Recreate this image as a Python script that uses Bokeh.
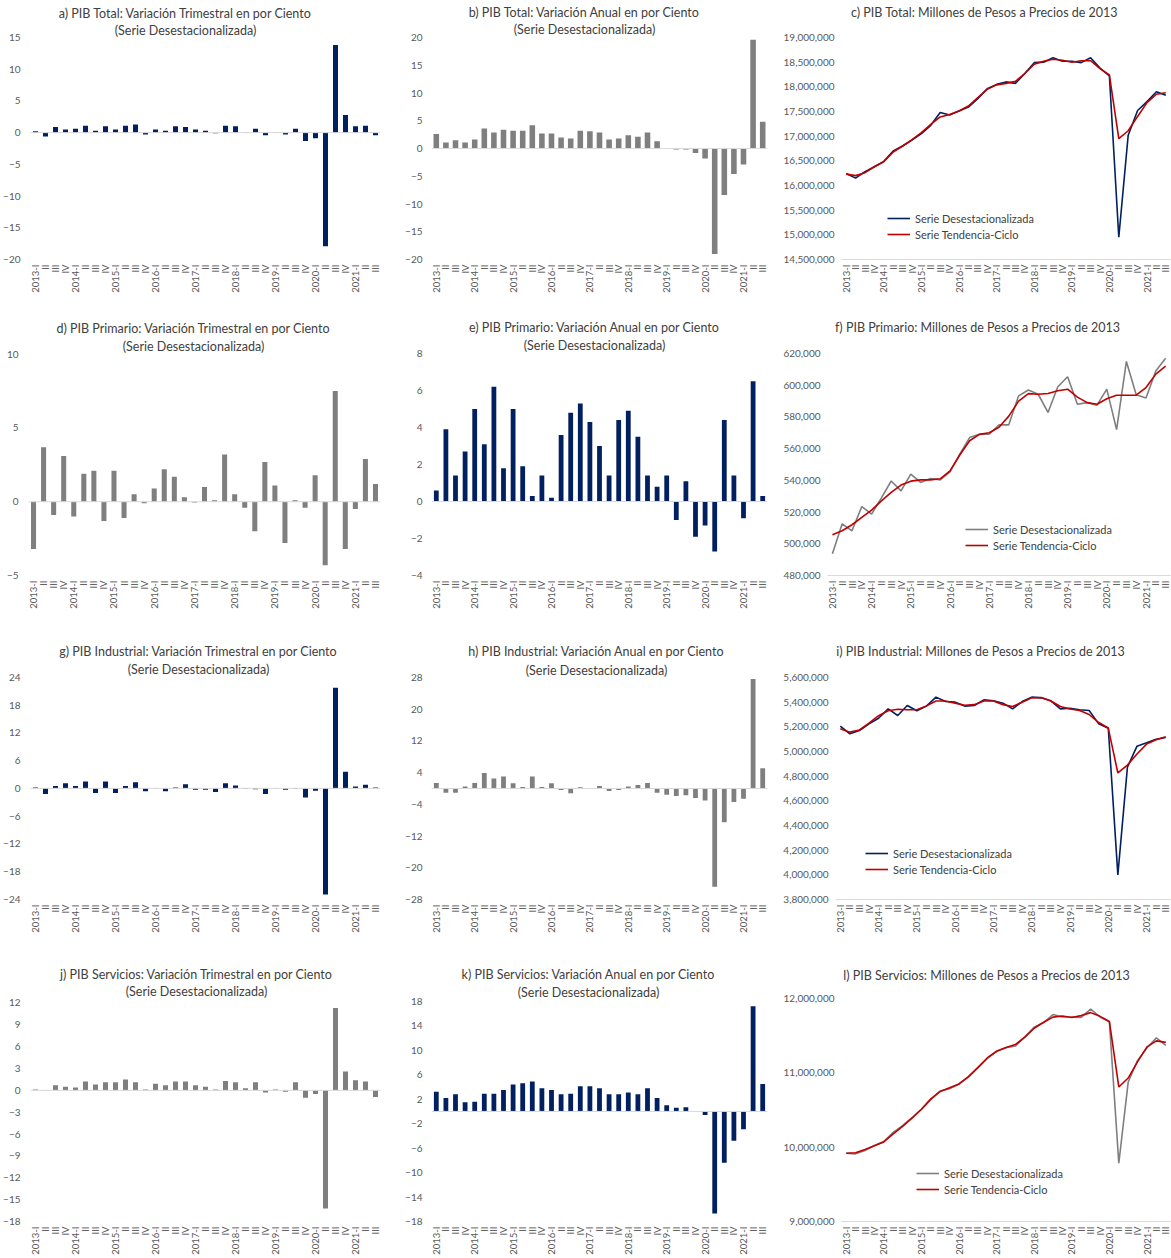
import math
from bokeh.plotting import figure
from bokeh.models import (Range1d, FixedTicker, NumeralTickFormatter, Span, Label,
                          Legend, LegendItem, ColumnDataSource)
from bokeh.layouts import row, column
from bokeh.embed import file_html
from bokeh.resources import INLINE

# ---------------- data ----------------
QUARTERS = ["2013-I", "II", "III", "IV", "2014-I", "II", "III", "IV",
            "2015-I", "II", "III", "IV", "2016-I", "II", "III", "IV",
            "2017-I", "II", "III", "IV", "2018-I", "II", "III", "IV",
            "2019-I", "II", "III", "IV", "2020-I", "II", "III", "IV",
            "2021-I", "II", "III"]

total_qoq = [0.2, -0.6, 0.9, 0.5, 0.6, 1.1, 0.3, 1.0, 0.5, 1.1, 1.3, -0.3, 0.5, 0.3, 1.0, 0.9,
             0.5, 0.3, -0.1, 1.1, 1.0, -0.05, 0.6, -0.4, -0.05, -0.3, 0.6, -1.3, -0.9, -17.9,
             13.8, 2.8, 1.0, 1.1, -0.4]
total_yoy = [2.6, 1.1, 1.5, 1.1, 1.6, 3.6, 2.9, 3.4, 3.2, 3.2, 4.2, 2.7, 2.7, 2.0, 1.8, 3.2,
             3.1, 2.9, 1.6, 1.8, 2.4, 2.1, 2.9, 1.3, 0.1, -0.2, -0.2, -0.8, -1.8, -19.0,
             -8.4, -4.6, -2.9, 19.6, 4.8]
total_sa = [16243000, 16150000, 16280000, 16380000, 16490000, 16700000, 16800000, 16920000,
            17050000, 17220000, 17480000, 17430000, 17510000, 17590000, 17760000, 17960000,
            18050000, 18100000, 18070000, 18270000, 18490000, 18500000, 18590000, 18520000,
            18520000, 18490000, 18590000, 18380000, 18220000, 14950000, 17020000, 17520000,
            17700000, 17900000, 17830000]
total_tc = [16230000, 16200000, 16260000, 16380000, 16480000, 16680000, 16800000, 16930000,
            17070000, 17240000, 17390000, 17440000, 17510000, 17610000, 17780000, 17950000,
            18040000, 18070000, 18110000, 18270000, 18460000, 18520000, 18560000, 18540000,
            18500000, 18530000, 18530000, 18370000, 18240000, 16950000, 17110000, 17400000,
            17680000, 17850000, 17880000]

prim_qoq = [-3.2, 3.7, -0.9, 3.1, -1.0, 1.9, 2.1, -1.3, 2.1, -1.1, 0.5, -0.1, 0.9, 2.2, 1.7, 0.3,
            -0.05, 1.0, 0.1, 3.2, 0.5, -0.4, -2.0, 2.7, 1.1, -2.8, 0.1, -0.4, 1.8, -4.3,
            7.5, -3.2, -0.5, 2.9, 1.2]
prim_yoy = [0.6, 3.9, 1.4, 2.7, 5.0, 3.1, 6.2, 1.8, 5.0, 1.9, 0.3, 1.4, 0.2, 3.6, 4.8, 5.3,
            4.3, 3.0, 1.4, 4.4, 4.9, 3.5, 1.4, 0.8, 1.4, -1.0, 1.1, -1.9, -1.3, -2.7,
            4.4, 1.4, -0.9, 6.5, 0.3]
prim_sa = [493700, 512600, 508200, 523500, 518700, 529000, 539600, 533400, 543900, 538700,
           541200, 540300, 545400, 556500, 567000, 569100, 569100, 575000, 575000, 593300,
           597000, 594300, 582800, 599000, 605300, 588000, 589000, 587400, 597500, 572000,
           615000, 594000, 592000, 609000, 617000]
prim_tc = [505700, 508200, 512000, 516600, 521200, 527100, 532400, 537000, 539500, 540300,
           540300, 541000, 546000, 556000, 565000, 569000, 570000, 573500, 580500, 590000,
           594700, 594300, 594800, 596500, 597500, 592500, 589000, 588000, 591500, 593700,
           593700, 593700, 598500, 607000, 612000]

ind_qoq = [0.2, -1.2, 0.5, 1.1, 0.5, 1.5, -1.0, 1.5, -1.0, 0.5, 1.3, -0.6, 0.1, -0.6, 0.2, 0.9,
           -0.3, -0.3, -0.8, 1.1, 0.6, -0.1, -0.2, -1.2, 0.1, -0.3, -0.1, -2.0, -0.5, -22.9,
           21.7, 3.6, 0.4, 0.8, 0.2]
ind_yoy = [1.4, -1.1, -1.1, 0.5, 1.4, 3.9, 2.5, 3.0, 1.3, 0.4, 3.0, 0.4, 1.3, -0.4, -1.2, 0.3,
           0.05, 0.6, -0.6, -0.4, 0.5, 0.9, 1.4, -1.1, -1.6, -1.9, -1.7, -2.4, -3.0, -24.8,
           -8.5, -3.4, -2.6, 27.6, 5.1]
ind_sa = [5205000, 5143000, 5170000, 5224000, 5270000, 5346000, 5292000, 5373000, 5330000,
          5368000, 5441000, 5405000, 5400000, 5368000, 5373000, 5419000, 5411000, 5392000,
          5346000, 5405000, 5441000, 5435000, 5411000, 5346000, 5351000, 5338000, 5332000,
          5224000, 5189000, 4000000, 4873000, 5043000, 5070000, 5100000, 5113000]
ind_tc = [5185000, 5157000, 5175000, 5230000, 5290000, 5330000, 5343000, 5338000, 5338000,
          5370000, 5410000, 5410000, 5392000, 5375000, 5380000, 5410000, 5410000, 5380000,
          5365000, 5400000, 5435000, 5438000, 5410000, 5365000, 5345000, 5332000, 5300000,
          5235000, 5190000, 4826000, 4890000, 4980000, 5060000, 5095000, 5120000]

serv_qoq = [0.1, 0.05, 0.7, 0.5, 0.4, 1.2, 0.8, 1.1, 1.1, 1.5, 1.1, 0.1, 0.9, 0.7, 1.2, 1.2,
            0.7, 0.5, 0.1, 1.3, 1.1, 0.3, 1.1, -0.3, 0.1, -0.2, 1.1, -1.0, -0.5, -16.2,
            11.3, 2.6, 1.4, 1.2, -0.9]
serv_yoy = [3.2, 2.2, 2.8, 1.5, 1.6, 2.9, 2.9, 3.5, 4.4, 4.6, 4.9, 3.8, 3.5, 2.8, 2.9, 4.1,
            4.1, 3.8, 2.8, 2.8, 3.1, 2.8, 3.8, 2.2, 1.0, 0.6, 0.7, 0.0, -0.6, -16.7,
            -8.4, -4.8, -2.9, 17.2, 4.5]
serv_sa = [9919000, 9910000, 9955000, 10022000, 10076000, 10200000, 10290000, 10396000,
           10508000, 10638000, 10755000, 10786000, 10850000, 10942000, 11067000, 11190000,
           11290000, 11337000, 11360000, 11480000, 11615000, 11676000, 11784000, 11752000,
           11752000, 11745000, 11856000, 11752000, 11685000, 9784000, 10876000, 11167000,
           11338000, 11470000, 11368000]
serv_tc = [9918000, 9924000, 9970000, 10020000, 10070000, 10180000, 10280000, 10390000,
           10510000, 10650000, 10750000, 10800000, 10850000, 10950000, 11070000, 11200000,
           11290000, 11340000, 11380000, 11480000, 11600000, 11680000, 11750000, 11765000,
           11745000, 11770000, 11810000, 11760000, 11690000, 10810000, 10930000, 11150000,
           11350000, 11430000, 11410000]

# tick values
ticks_a = [-20, -15, -10, -5, 0, 5, 10, 15]
ticks_b = [-20, -15, -10, -5, 0, 5, 10, 15, 20]
ticks_c = [14500000, 15000000, 15500000, 16000000, 16500000, 17000000, 17500000, 18000000,
           18500000, 19000000]
ticks_d = [-5, 0, 5, 10]
ticks_e = [-4, -2, 0, 2, 4, 6, 8]
ticks_f = [480000, 500000, 520000, 540000, 560000, 580000, 600000, 620000]
ticks_g = [-24, -18, -12, -6, 0, 6, 12, 18, 24]
ticks_h = [-28, -20, -12, -4, 4, 12, 20, 28]
ticks_i = [3800000, 4000000, 4200000, 4400000, 4600000, 4800000, 5000000, 5200000, 5400000,
           5600000]
ticks_j = [-18, -15, -12, -9, -6, -3, 0, 3, 6, 9, 12]
ticks_k = [-18, -14, -10, -6, -2, 2, 6, 10, 14, 18]
ticks_l = [9000000, 10000000, 11000000, 12000000]

LEG_SA = "Serie Desestacionalizada"
LEG_TC = "Serie Tendencia-Ciclo"
T2 = "(Serie Desestacionalizada)"

# ---------------- style ----------------
FONT = "Lato"
NAVY = "#002060"
GRAY = "#7F7F7F"
RED = "#C00000"
TITLE_C = "#404040"
TICK_C = "#595959"
AXIS_C = "#D9D9D9"
IDX = list(range(len(QUARTERS)))


def base_fig(fx, fy, W, H, frame, yr, yticks, comma, standoff, titles, tcx, tys):
    # frame = (left, right, top, bottom) of the plotting area, page pixels.
    # The frame is extended up to the top of the figure so that the titles
    # (drawn as labels) sit inside it; the y range is extended accordingly.
    L, R, T, B = frame
    y0, y1 = yr
    y1_ext = y1 + (T - fy) * (y1 - y0) / (B - T)
    p = figure(width=W, height=H, output_backend="svg", toolbar_location=None,
               x_range=Range1d(-0.5, len(QUARTERS) - 0.5), y_range=Range1d(y0, y1_ext),
               min_border_left=L - fx, min_border_right=fx + W - R,
               min_border_top=0, min_border_bottom=fy + H - B)
    p.outline_line_color = None
    p.xgrid.visible = False
    p.ygrid.visible = False
    p.background_fill_color = "white"
    p.border_fill_color = "white"

    ya = p.yaxis[0]
    ya.ticker = FixedTicker(ticks=yticks)
    if comma:
        ya.formatter = NumeralTickFormatter(format="0,0")
    ya.axis_line_color = None
    ya.major_tick_line_color = None
    ya.minor_tick_line_color = None
    ya.major_tick_out = 0
    ya.major_tick_in = 0
    ya.minor_tick_out = 0
    ya.minor_tick_in = 0
    ya.axis_label_standoff = 0
    ya.major_label_text_font = FONT
    ya.major_label_text_font_size = "10px"
    ya.major_label_text_color = TICK_C
    ya.major_label_standoff = standoff

    xa = p.xaxis[0]
    xa.ticker = FixedTicker(ticks=IDX)
    xa.major_label_overrides = {i: q for i, q in zip(IDX, QUARTERS)}
    xa.major_label_orientation = math.pi / 2
    xa.major_tick_line_color = None
    xa.minor_tick_line_color = None
    xa.major_tick_out = 0
    xa.major_tick_in = 0
    xa.minor_tick_out = 0
    xa.minor_tick_in = 0
    xa.axis_label_standoff = 0
    xa.major_label_text_font = FONT
    xa.major_label_text_font_size = "9.5px"
    xa.major_label_text_color = TICK_C
    xa.major_label_standoff = 5
    xa.axis_line_color = AXIS_C

    for txt, yc in zip(titles, tys):
        p.add_layout(Label(x=tcx - L, y=B - yc, x_units="screen", y_units="screen",
                           text=txt, text_align="center", text_baseline="middle",
                           text_font=FONT, text_font_size="12.5px", text_color=TITLE_C))
    return p


def bar_fig(vals, color, width, **kw):
    p = base_fig(**kw)
    p.xaxis[0].axis_line_color = None
    src = ColumnDataSource(dict(x=IDX, top=vals))
    p.vbar(x="x", top="top", bottom=0, width=width, source=src,
           fill_color=color, line_color=None)
    p.add_layout(Span(location=0, dimension="width", line_color=AXIS_C, line_width=1))
    return p


def line_fig(sa, tc, sa_color, leg_xy, **kw):
    p = base_fig(**kw)
    src = ColumnDataSource(dict(x=IDX, sa=sa, tc=tc))
    r1 = p.line("x", "sa", source=src, line_color=sa_color, line_width=1.6)
    r2 = p.line("x", "tc", source=src, line_color=RED, line_width=1.6)
    leg = Legend(items=[LegendItem(label=LEG_SA, renderers=[r1]),
                        LegendItem(label=LEG_TC, renderers=[r2])],
                 location=leg_xy, orientation="vertical",
                 label_text_font=FONT, label_text_font_size="11px", label_text_color=TITLE_C,
                 glyph_width=23, glyph_height=16, label_height=16, label_standoff=5,
                 spacing=0, padding=0, margin=0, border_line_color=None,
                 background_fill_alpha=0)
    p.add_layout(leg)
    return p


# column origins / widths, row origins / heights (page coordinates)
C1, C2, C3 = (0, 390), (390, 390), (780, 391)
R1, R2, R3, R4 = (0, 315), (315, 325), (640, 325), (965, 293)

pa = bar_fig(total_qoq, NAVY, 0.5, fx=C1[0], fy=R1[0], W=C1[1], H=R1[1],
             frame=(28, 380, 37, 259), yr=(-20, 15), yticks=ticks_a, comma=False, standoff=10,
             titles=["a) PIB Total: Variación Trimestral en por Ciento", T2], tcx=183, tys=[13, 30])
pb = bar_fig(total_yoy, GRAY, 0.58, fx=C2[0], fy=R1[0], W=C2[1], H=R1[1],
             frame=(431, 767, 37, 259), yr=(-20, 20), yticks=ticks_b, comma=False, standoff=9,
             titles=["b) PIB Total: Variación Anual en por Ciento", T2], tcx=584, tys=[12, 29])
pc = line_fig(total_sa, total_tc, NAVY, (46, 17), fx=C3[0], fy=R1[0], W=C3[1], H=R1[1],
              frame=(838, 1170, 37, 259), yr=(14500000, 19000000), yticks=ticks_c, comma=True,
              standoff=7, titles=["c) PIB Total: Millones de Pesos a Precios de 2013"],
              tcx=981, tys=[12])

pd_ = bar_fig(prim_qoq, GRAY, 0.5, fx=C1[0], fy=R2[0], W=C1[1], H=R2[1],
              frame=(28, 380, 354, 577), yr=(-5, 10), yticks=ticks_d, comma=False, standoff=10,
              titles=["d) PIB Primario: Variación Trimestral en por Ciento", T2], tcx=193,
              tys=[330, 348])
pe = bar_fig(prim_yoy, NAVY, 0.5, fx=C2[0], fy=R2[0], W=C2[1], H=R2[1],
             frame=(431, 767, 353, 575), yr=(-4, 8), yticks=ticks_e, comma=False, standoff=9,
             titles=["e) PIB Primario: Variación Anual en por Ciento", T2], tcx=594,
             tys=[327, 345])
pf = line_fig(prim_sa, prim_tc, GRAY, (138, 22), fx=C3[0], fy=R2[0], W=C3[1], H=R2[1],
              frame=(825, 1170, 353, 575), yr=(480000, 620000), yticks=ticks_f, comma=True,
              standoff=7, titles=["f) PIB Primario: Millones de Pesos a Precios de 2013"],
              tcx=975, tys=[327])

pg = bar_fig(ind_qoq, NAVY, 0.5, fx=C1[0], fy=R3[0], W=C1[1], H=R3[1],
             frame=(28, 380, 677, 901), yr=(-24, 24), yticks=ticks_g, comma=False, standoff=10,
             titles=["g) PIB Industrial: Variación Trimestral en por Ciento", T2], tcx=196,
             tys=[653, 671])
ph = bar_fig(ind_yoy, GRAY, 0.5, fx=C2[0], fy=R3[0], W=C2[1], H=R3[1],
             frame=(431, 767, 677, 899), yr=(-28, 28), yticks=ticks_h, comma=False, standoff=9,
             titles=["h) PIB Industrial: Variación Anual en por Ciento", T2], tcx=596,
             tys=[651, 670])
pi_ = line_fig(ind_sa, ind_tc, NAVY, (30, 22), fx=C3[0], fy=R3[0], W=C3[1], H=R3[1],
               frame=(834, 1170, 677, 899), yr=(3800000, 5600000), yticks=ticks_i, comma=True,
               standoff=7, titles=["i) PIB Industrial: Millones de Pesos a Precios de 2013"],
               tcx=979, tys=[651])

pj = bar_fig(serv_qoq, GRAY, 0.5, fx=C1[0], fy=R4[0], W=C1[1], H=R4[1],
             frame=(28, 380, 1003, 1225), yr=(-18, 12), yticks=ticks_j, comma=False, standoff=10,
             titles=["j) PIB Servicios: Variación Trimestral en por Ciento", T2], tcx=194,
             tys=[978, 995])
pk = bar_fig(serv_yoy, NAVY, 0.5, fx=C2[0], fy=R4[0], W=C2[1], H=R4[1],
             frame=(431, 767, 1001, 1222), yr=(-18, 18), yticks=ticks_k, comma=False, standoff=9,
             titles=["k) PIB Servicios: Variación Anual en por Ciento", T2], tcx=588,
             tys=[975, 993])
pl = line_fig(serv_sa, serv_tc, GRAY, (75, 24), fx=C3[0], fy=R4[0], W=C3[1], H=R4[1],
              frame=(838, 1170, 998, 1221), yr=(9000000, 12000000), yticks=ticks_l, comma=True,
              standoff=7, titles=["l) PIB Servicios: Millones de Pesos a Precios de 2013"],
              tcx=983, tys=[975])

layout = column(row(pa, pb, pc, spacing=0), row(pd_, pe, pf, spacing=0),
                row(pg, ph, pi_, spacing=0), row(pj, pk, pl, spacing=0), spacing=0)

open("out.html", "w").write(file_html(layout, INLINE))
